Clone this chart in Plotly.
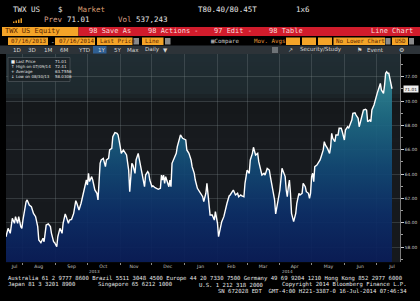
import plotly.graph_objects as go
import pandas as pd

# ---------------- data ----------------
START_DATE = "2013-07-16"
# trading points: days after 2013-07-16, and TWX last price
day_offsets = [
    0, 2, 4, 6, 8, 9, 11, 12, 14, 15, 16, 19, 20, 22, 24, 26, 28, 30, 31, 33,
    35, 36, 38, 40, 42, 43, 45, 46, 48, 49, 51, 53, 54, 56, 57, 59, 60, 62, 64, 66,
    67, 69, 71, 73, 75, 76, 77, 78, 79, 81, 82, 84, 86, 87, 89, 90, 92, 94, 95, 97,
    98, 100, 101, 103, 105, 106, 108, 109, 111, 112, 114, 116, 117, 119, 120, 122, 123, 125,
    127, 128, 130, 131, 132, 134, 135, 136, 138, 139, 141, 142, 144, 146, 147, 148, 149, 150,
    151, 152, 154, 155, 156, 157, 159, 161, 162, 164, 165, 167, 169, 170, 171, 173, 175, 176,
    178, 179, 181, 182, 184, 186, 187, 189, 190, 192, 193, 195, 197, 198, 200, 201, 203, 204,
    206, 208, 209, 211, 212, 214, 215, 217, 219, 220, 222, 223, 225, 226, 228, 230, 231, 233,
    234, 236, 238, 239, 241, 242, 244, 245, 247, 249,
    250, 252, 254, 255, 257, 259, 261, 263, 264, 265, 266, 267, 268, 269, 270, 272, 273, 274,
    275, 277, 278, 280, 281, 283, 284, 286, 287, 288, 289, 290, 291, 292, 294, 295, 297, 298,
    300, 301, 302, 304, 306, 307, 308, 309, 311, 312, 314, 315, 317, 318, 319, 320, 321, 323,
    324, 326, 327, 328, 330, 331, 333, 334, 335, 336, 337, 338, 340, 341, 342, 344, 345, 346,
    348, 349, 351, 353, 354, 355, 357, 358, 359, 360, 361, 362, 363, 364, 365,
]
last_price = [
    58.85, 59.54, 59.13, 60.36, 59.95, 60.50, 59.95, 60.50, 59.68, 59.54, 60.22, 61.73, 61.87, 61.46, 61.32, 60.77, 60.50, 59.68, 58.58, 58.36,
    58.72, 58.44, 59.81, 59.90, 59.68, 59.13, 58.44, 58.36, 58.03, 58.85, 59.54, 59.13, 59.95, 60.72, 60.50, 59.95, 60.22, 60.28, 60.77, 61.81,
    61.60, 61.05, 61.60, 62.42, 63.10, 63.51, 63.10, 64.06, 63.38, 63.79, 63.51, 62.69, 62.42, 61.87, 64.88, 65.16, 65.29, 64.61, 65.16, 65.29,
    65.98, 66.11, 67.07, 67.40, 67.35, 67.21, 66.25, 65.70, 65.98, 65.84, 65.57, 64.33, 62.55, 64.88, 64.74, 64.06, 65.16, 65.70,
    64.88, 64.33, 63.51, 62.96, 63.92, 64.20, 64.06, 63.51, 62.96, 63.02, 62.88, 62.83, 62.75, 62.83, 63.92, 63.51, 63.92, 63.24,
    63.79, 63.51, 62.96, 63.51, 62.96, 64.88, 65.29, 65.70, 66.25, 66.80, 67.21, 66.94, 66.88, 66.80, 65.98, 65.70, 65.16, 64.61,
    64.06, 63.51, 62.83, 62.69, 62.42, 62.14, 61.73, 62.42, 63.24, 61.60, 60.64, 60.64, 60.22, 60.91, 59.95, 58.85, 59.68, 60.09,
    60.50, 61.32, 61.60, 62.20, 62.28, 62.55, 62.69, 62.28, 62.42, 62.14, 62.28, 62.20, 62.14, 63.24, 64.33, 64.06, 65.16, 65.70,
    66.20, 65.57, 65.70, 65.02, 64.33, 63.92, 64.06, 63.92, 64.47, 64.33,
    63.79, 62.69, 61.87, 60.72, 61.87, 62.69, 64.47, 64.06, 63.79, 62.69, 62.14, 62.96, 63.51, 62.42, 60.77, 60.09, 60.50, 60.77,
    61.60, 62.42, 62.28, 62.42, 63.24, 62.96, 62.55, 62.42, 62.01, 62.42, 63.79, 64.06, 63.38, 64.61, 64.74, 64.88, 65.16, 65.43,
    65.98, 66.66, 66.39, 66.11, 65.70, 66.25, 67.35, 66.94, 66.66, 67.21, 67.21, 67.76, 67.76, 67.48, 67.07, 66.80, 67.62, 67.89,
    67.76, 68.17, 68.44, 68.99, 69.04, 68.85, 68.58, 67.89, 68.30, 68.58, 68.85, 69.26, 69.32, 69.26, 68.30, 68.44, 68.30, 69.26,
    69.67, 70.09, 70.63, 71.18, 71.45, 70.91, 70.63, 71.32, 72.28, 72.41, 72.28, 72.28, 71.87, 71.45, 71.01,
]

y_tick_values = [58, 60, 62, 64, 66, 68, 70, 72]
month_labels = ["Jul", "Aug", "Sep", "Oct", "Nov", "Dec", "Jan", "Feb", "Mar", "Apr", "May", "Jun", "Jul"]
month_label_dates = ["2013-07-24", "2013-08-16", "2013-09-16", "2013-10-16", "2013-11-14", "2013-12-16",
                     "2014-01-16", "2014-02-14", "2014-03-16", "2014-04-15", "2014-05-17", "2014-06-16", "2014-07-16"]
month_starts = ["2013-08-01", "2013-09-01", "2013-10-01", "2013-11-01", "2013-12-01", "2014-01-01",
                "2014-02-01", "2014-03-01", "2014-04-01", "2014-05-01", "2014-06-01", "2014-07-01"]
year_labels = ["2013", "2014"]
year_label_dates = ["2013-10-08", "2014-04-08"]

legend_names = ["Last Price", "High on 07/09/14", "Average", "Low on 08/30/13"]
legend_values = ["71.01", "72.41", "63.7556", "58.0306"]
legend_icons = ["■", "↑", "+", "↓"]
last_value_label = "71.01"

dates = pd.Timestamp(START_DATE) + pd.to_timedelta(day_offsets, unit="D")

# ---------------- layout helpers (UI chrome) ----------------
W, H = 420, 301
MONO = "DejaVu Sans Mono"
SANS = "DejaVu Sans"


def py(p):
    return 1 - p / H


def px(p):
    return p / W


shapes = []
annotations = []


def rect(x0, x1, y0, y1, color, line=None, layer="above"):
    shapes.append(dict(type="rect", xref="paper", yref="paper",
                       x0=px(x0), x1=px(x1), y0=py(y1), y1=py(y0),
                       fillcolor=color, line=dict(width=0 if line is None else 0.6,
                                                  color=line or color), layer=layer))


def text(s, x, y, color="#e6e6e6", size=7, font=MONO, anchor="left"):
    annotations.append(dict(text=s, xref="paper", yref="paper", x=px(x), y=py(y),
                            xanchor=anchor, yanchor="middle", showarrow=False,
                            font=dict(family=font, size=size, color=color), borderpad=0))


# plot-area background bands (dark teal at top, darker below)
PLOT_L, PLOT_R, PLOT_T, PLOT_B = 6, 400, 54, 262
bg_stops = [(54, (33, 46, 52)), (92, (30, 41, 46)), (104, (21, 24, 27)),
            (140, (24, 27, 31)), (262, (22, 25, 29))]
n_bands = 52
for i in range(n_bands):
    a = PLOT_T + (PLOT_B - PLOT_T) * i / n_bands
    b = PLOT_T + (PLOT_B - PLOT_T) * (i + 1) / n_bands
    m = (a + b) / 2
    for (p0, c0), (p1, c1) in zip(bg_stops[:-1], bg_stops[1:]):
        if p0 <= m <= p1:
            t = (m - p0) / (p1 - p0)
            c = tuple(int(c0[k] + (c1[k] - c0[k]) * t) for k in range(3))
            break
    rect(PLOT_L, PLOT_R, a, b + 0.3, "rgb(%d,%d,%d)" % c, layer="below")

# ---- header row 1 ----
text("TWX US", 12, 10, size=7.5)
text("$", 57, 10, size=7.5)
text("Market", 77, 10, color="#dc9f72", size=7.5)
text("T80.40/80.45T", 197, 10, size=7.5)
text("1x6", 295, 10, size=7.5)
# ---- header row 2 ----
for i, h in enumerate([1.5, 2.5, 3.5, 4.8]):
    rect(13 + i * 2.5, 14.5 + i * 2.5, 23 - h, 23, "#e39a26")
text("Prev", 43, 20, color="#d9a08a", size=7.5)
text("71.01", 66, 20, size=7.5)
text("Vol", 117, 20, color="#d9a08a", size=7.5)
text("537,243", 135, 20, size=7.5)
# ---- header row 3 (orange / red bar) ----
rect(2, 78.5, 27, 36, "#f4a428")
rect(78.5, 420, 27, 36, "#d11c2c")
text("TWX US Equity", 4, 31.5, color="#5c2500", size=7)
for s, x in [("98 Save As", 88), ("98 Actions -", 147), ("97 Edit -", 213), ("98 Table", 268)]:
    text(s, x, 31.5, color="#f6dcdc", size=7)
text("Line Chart", 370, 31.5, color="#f6dcdc", size=7)
# ---- header row 4 ----
for x0, x1 in [(8, 48), (55, 95), (97, 132.5), (142, 163.5), (286, 300), (302, 316),
               (318, 332), (333.5, 385), (392, 408)]:
    rect(x0, x1, 37.5, 45, "#f4a428")
for x0, x1 in [(133.5, 139), (165, 170.5), (385.5, 390.5), (409, 414)]:
    rect(x0, x1, 38, 44.5, "#8a8a8a")
for s, x in [("07/16/2013", 10), ("07/16/2014", 57.5), ("Last Price", 99), ("Line", 144),
             ("No Lower Chart", 335), ("USD", 394)]:
    text(s, x, 41.3, color="#5c2500", size=5.8)
text("-", 50, 41.3, size=6)
text("▦Compare", 210, 41.3, color="#c8c8c8", size=5.8)
text("Mov. Avgs", 253, 41.3, color="#e89a3a", size=5.8)
# ---- header row 5 (range buttons) ----
rect(0, 420, 45.5, 54, "#2d3338")
rect(93, 106.5, 46, 53.5, "#2f5f92")
for s, x in [("1D", 12), ("3D", 27), ("1M", 43), ("6M", 59), ("YTD", 77), ("1Y", 97),
             ("5Y", 113), ("Max", 126), ("Daily", 144), ("▼", 162)]:
    text(s, x, 50, color="#d4d4d4", size=5.6, font=SANS)
rect(272, 278, 47, 53, "#6e7377")
text("↗", 287, 50, color="#d4d4d4", size=6, font=SANS)
text("Security/Study", 299, 50, color="#d4d4d4", size=5.6, font=SANS)
text("⚑", 356, 50, color="#d4d4d4", size=6, font=SANS)
text("Event", 366, 50, color="#d4d4d4", size=5.6, font=SANS)
text("⚙", 398, 50, color="#d4d4d4", size=6, font=SANS)

# ---- legend box ----
rect(8, 70, 57.5, 81.5, "rgba(28,36,40,0.9)", line="#5a6266")
for i, (ic, nm, vl) in enumerate(zip(legend_icons, legend_names, legend_values)):
    yy = 61.2 + i * 5.1
    text(ic, 10, yy, color="#f0f0f0", size=4.2, font=SANS)
    text(nm, 14.5, yy, color="#e0e0e0", size=4.0, font=SANS)
    text(vl, 54, yy, color="#e0e0e0", size=4.0, font=SANS)

# ---- footer ----
FOOT = 5.6
text("Australia 61 2 9777 8600 Brazil 5511 3048 4500 Europe 44 20 7330 7500 Germany 49 69 9204 1210 Hong Kong 852 2977 6000",
     7, 278.3, size=FOOT)
text("Japan 81 3 3201 8900", 7, 284.6, size=FOOT)
text("Singapore 65 6212 1000", 97, 284.6, size=FOOT)
text("U.S. 1 212 318 2000", 198, 284.6, size=FOOT)
text("Copyright 2014 Bloomberg Finance L.P.", 408, 284.6, size=FOOT, anchor="right")
text("SN 672028 EDT  GMT-4:00 H221-3387-0 16-Jul-2014 07:46:34", 408, 291, size=FOOT, anchor="right")

# year labels under the month labels
for yl, yd in zip(year_labels, year_label_dates):
    annotations.append(dict(text=yl, xref="x", yref="paper", x=yd, y=py(271.2),
                            xanchor="center", yanchor="middle", showarrow=False,
                            font=dict(family=SANS, size=4.2, color="#c0c0c0")))
# last price tag on the right axis
annotations.append(dict(text=last_value_label, xref="paper", yref="y", x=px(402.5), y=last_price[-1],
                        xanchor="left", yanchor="middle", showarrow=False, bgcolor="#ececec",
                        borderpad=0.6, font=dict(family=SANS, size=4.3, color="#111111")))

# ---------------- figure ----------------
fig = go.Figure()
fig.add_trace(go.Scatter(
    x=dates, y=last_price, mode="lines",
    line=dict(color="#ffffff", width=1.4),
    fill="tozeroy",
    fillgradient=dict(type="vertical", start=56.77, stop=72.6,
                      colorscale=[[0.0, "rgba(9,28,88,0.92)"], [0.25, "rgba(12,46,104,0.92)"],
                                  [0.5, "rgba(18,74,118,0.92)"], [0.75, "rgba(30,108,134,0.92)"],
                                  [1.0, "rgba(54,144,156,0.92)"]]),
    hoverinfo="skip", showlegend=False,
))

fig.update_layout(
    width=W, height=H, margin=dict(l=0, r=0, t=0, b=0, pad=0),
    paper_bgcolor="#000000", plot_bgcolor="#181c20",
    showlegend=False, shapes=shapes, annotations=annotations,
    xaxis=dict(
        domain=[px(PLOT_L), px(PLOT_R)], range=["2013-07-16", "2014-07-23 14:00"],
        tickmode="array", tickvals=month_label_dates, ticktext=month_labels,
        ticks="", showgrid=False, zeroline=False, showline=False,
        tickfont=dict(family=SANS, size=4.6, color="#c4c4c4"),
        minor=dict(tickmode="array", tickvals=month_starts, showgrid=True,
                   gridcolor="rgba(130,140,145,0.28)", gridwidth=1,
                   ticks="outside", ticklen=2, tickcolor="#8a8a8a", tickwidth=1),
    ),
    yaxis=dict(
        domain=[py(PLOT_B), py(PLOT_T)], range=[56.774, 73.865], side="right",
        tickmode="array", tickvals=y_tick_values, tickformat=".2f",
        showgrid=True, gridcolor="rgba(130,140,145,0.28)", gridwidth=1,
        zeroline=False, showline=True, linecolor="#7a7a7a", linewidth=1,
        ticks="outside", ticklen=3, tickcolor="#d0d0d0", tickwidth=1,
        minor=dict(dtick=1, ticks="outside", ticklen=1.5, tickcolor="#a0a0a0", showgrid=False),
        tickfont=dict(family=SANS, size=4.3, color="#c8c8c8"),
    ),
)

fig.write_html("out.html")
